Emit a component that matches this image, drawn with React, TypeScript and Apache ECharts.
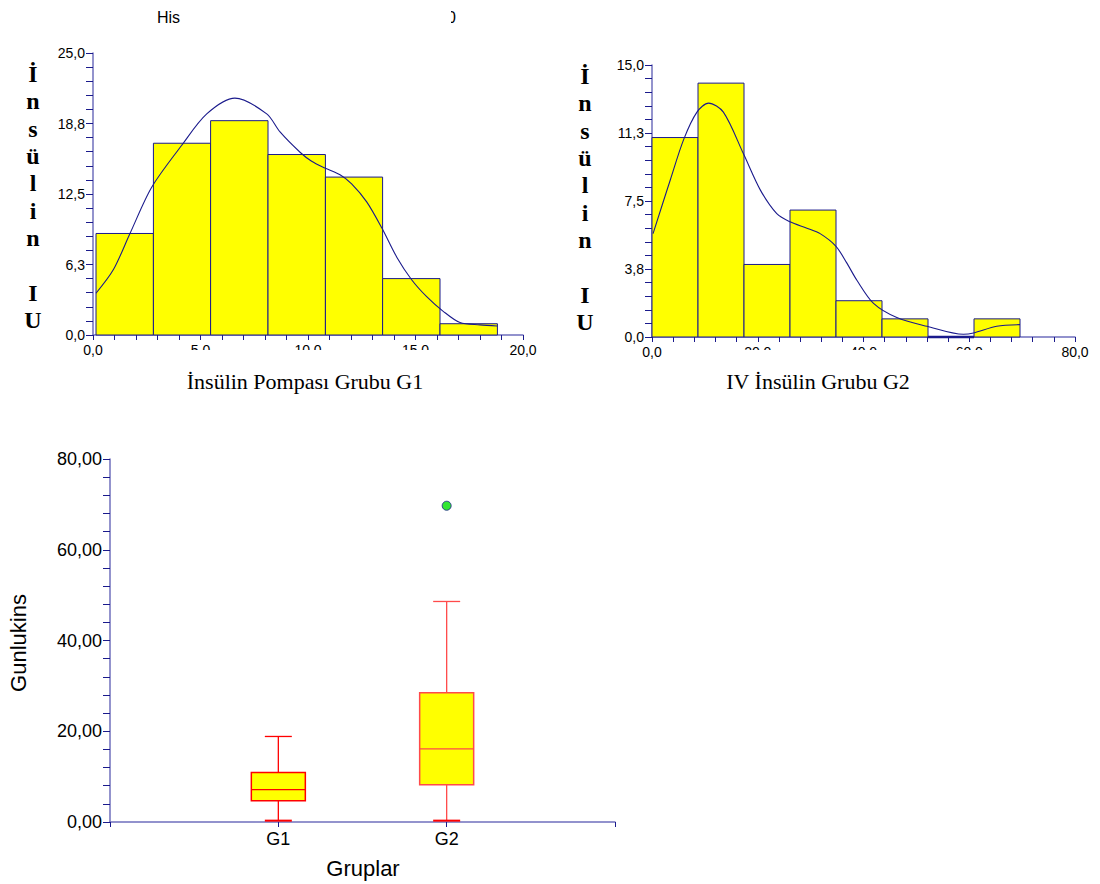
import React, { useEffect, useRef } from "react";
import * as echarts from "echarts";

// ---- Histogram G1 (İnsülin Pompası Grubu) ----
const g1Edges = [0.14, 2.81, 5.47, 8.14, 10.81, 13.47, 16.14, 18.81];
const g1Counts = [9, 17, 19, 16, 14, 5, 1];
const g1CurveX = [0.14, 0.95, 1.72, 2.73, 4.12, 5.29, 6.6, 8.08, 8.7, 9.63, 10.17, 10.79, 11.49, 12.03, 12.73, 13.43, 14.13, 14.82, 15.52, 16.29, 17.07, 18.0, 18.8];
const g1CurveY = [3.7, 5.8, 9.0, 13.1, 16.8, 19.6, 21.0, 19.6, 18.0, 16.2, 15.4, 14.8, 14.2, 13.4, 11.8, 9.5, 6.9, 4.9, 3.4, 2.1, 1.1, 0.9, 0.8];

// ---- Histogram G2 (IV İnsülin Grubu) ----
const g2Edges = [0, 8.7, 17.4, 26.1, 34.8, 43.5, 52.2, 60.9, 69.6];
const g2Counts = [11, 14, 4, 7, 2, 1, 0, 1];
const g2CurveX = [0.2, 3.5, 6.0, 8.5, 10.7, 13.5, 17.3, 20.5, 23.6, 26.1, 29.3, 31.8, 34.8, 36.8, 38.75, 41.9, 46.3, 52.0, 58.9, 60.8, 65.2, 69.6];
const g2CurveY = [5.7, 8.7, 10.9, 12.4, 12.9, 12.4, 10.1, 8.1, 6.8, 6.35, 6.0, 5.7, 5.0, 4.1, 3.13, 1.85, 1.07, 0.59, 0.15, 0.22, 0.59, 0.68];

// ---- Box plot (Gunlukins by Gruplar) ----
const groups = ["G1", "G2"];
const boxMin = [0.3, 0.3];
const boxQ1 = [4.7, 8.2];
const boxMedian = [7.15, 16.1];
const boxQ3 = [10.9, 28.5];
const boxMax = [18.85, 48.6];
const outlierGroup = ["G2"];
const outlierValue = [69.7];

// tick labels
const hist1XTicks = [0, 5, 10, 15, 20];
const hist1YTicks = [0, 6.25, 12.5, 18.75, 25];
const hist2XTicks = [0, 20, 40, 60, 80];
const hist2YTicks = [0, 3.75, 7.5, 11.25, 15];
const boxYTicks = [0, 20, 40, 60, 80];

const SANS = "Liberation Sans, Arial, sans-serif";
const SERIF = "Liberation Serif, Times New Roman, serif";
const AXIS_LINE = "#6f6fbd";
const TICK = "#1a1a8c";
const NAVY = "#1a1a8c";

const comma1 = (v: number) => v.toFixed(1).replace(".", ",");
const comma2 = (v: number) => v.toFixed(2).replace(".", ",");

function valueAxis(gridIndex: number, ticks: number[], minorSplit: number, fmt: (v: number) => string, fontSize: number, tickLen: number, extra: any = {}) {
  return {
    type: "value",
    gridIndex,
    min: ticks[0],
    max: ticks[ticks.length - 1],
    interval: ticks[1] - ticks[0],
    axisLine: { show: true, lineStyle: { color: AXIS_LINE, width: 1.5 } },
    axisTick: { show: true, length: tickLen, lineStyle: { color: TICK } },
    minorTick: { show: true, splitNumber: minorSplit, length: tickLen, lineStyle: { color: TICK } },
    splitLine: { show: false },
    axisLabel: { color: "#000", fontFamily: SANS, fontSize, formatter: fmt, margin: 8 },
    ...extra,
  };
}

function histSeries(xi: number, edges: number[], counts: number[]) {
  const data = counts.map((c, i) => [edges[i], edges[i + 1], c]);
  return {
    type: "custom",
    xAxisIndex: xi,
    yAxisIndex: xi,
    data,
    encode: { x: [0, 1], y: 2 },
    z: 2,
    renderItem: (params: any, api: any) => {
      const p0 = api.coord([api.value(0), api.value(2)]);
      const p1 = api.coord([api.value(1), 0]);
      return {
        type: "rect",
        shape: { x: p0[0], y: p0[1], width: p1[0] - p0[0], height: p1[1] - p0[1] },
        style: { fill: "#ffff00", stroke: NAVY, lineWidth: api.value(2) === 0 ? 2.5 : 1 },
      };
    },
  };
}

function curveSeries(xi: number, xs: number[], ys: number[]) {
  return {
    type: "line",
    xAxisIndex: xi,
    yAxisIndex: xi,
    data: xs.map((x, i) => [x, ys[i]]),
    smooth: 0.3,
    showSymbol: false,
    symbol: "none",
    lineStyle: { color: NAVY, width: 1.1 },
    z: 5,
  };
}

export default function App() {
  const ref = useRef<HTMLDivElement>(null);
  useEffect(() => {
    if (!ref.current) return;
    const chart = echarts.init(ref.current, null, { renderer: "svg" });
    const boxData = groups.map((g, i) => [i + 1, boxMin[i], boxQ1[i], boxMedian[i], boxQ3[i], boxMax[i]]);
    const boxStroke = ["#ff0000", "#ff4a4a"];
    const letters = "İ\nn\ns\nü\nl\ni\nn\n\nI\nU";
    const option: any = {
      animation: false,
      backgroundColor: "#fff",
      grid: [
        { left: 93, top: 53, width: 430, height: 282 },
        { left: 652, top: 65, width: 423, height: 272 },
        { left: 110, top: 459, width: 505, height: 363 },
      ],
      xAxis: [
        valueAxis(0, hist1XTicks, 5, comma1, 14, 5),
        valueAxis(1, hist2XTicks, 5, comma1, 14, 5),
        {
          type: "value",
          gridIndex: 2,
          min: 0,
          max: groups.length + 1,
          interval: 1,
          axisLine: { show: true, lineStyle: { color: AXIS_LINE, width: 1.5 } },
          axisTick: { show: true, length: 5, lineStyle: { color: TICK } },
          splitLine: { show: false },
          axisLabel: {
            color: "#000",
            fontFamily: SANS,
            fontSize: 18,
            margin: 8,
            formatter: (v: number) => groups[v - 1] || "",
          },
        },
      ],
      yAxis: [
        valueAxis(0, hist1YTicks, 5, comma1, 14, 7),
        valueAxis(1, hist2YTicks, 5, comma1, 14, 7),
        valueAxis(2, boxYTicks, 5, comma2, 18, 7),
      ],
      series: [
        histSeries(0, g1Edges, g1Counts),
        curveSeries(0, g1CurveX, g1CurveY),
        histSeries(1, g2Edges, g2Counts),
        curveSeries(1, g2CurveX, g2CurveY),
        {
          type: "custom",
          xAxisIndex: 2,
          yAxisIndex: 2,
          data: boxData,
          encode: { x: 0, y: [1, 2, 3, 4, 5] },
          renderItem: (params: any, api: any) => {
            const x = api.value(0);
            const pMin = api.coord([x, api.value(1)]);
            const pQ1 = api.coord([x, api.value(2)]);
            const pMed = api.coord([x, api.value(3)]);
            const pQ3 = api.coord([x, api.value(4)]);
            const pMax = api.coord([x, api.value(5)]);
            const cx = pMin[0];
            const hw = 27;
            const cap = 13.5;
            const stroke = boxStroke[params.dataIndex] || "#ff0000";
            const ls = { stroke, lineWidth: 1.3 };
            return {
              type: "group",
              children: [
                { type: "line", shape: { x1: cx, y1: pMax[1], x2: cx, y2: pQ3[1] }, style: ls },
                { type: "line", shape: { x1: cx, y1: pQ1[1], x2: cx, y2: pMin[1] }, style: ls },
                { type: "line", shape: { x1: cx - cap, y1: pMax[1], x2: cx + cap, y2: pMax[1] }, style: ls },
                { type: "line", shape: { x1: cx - cap, y1: pMin[1], x2: cx + cap, y2: pMin[1] }, style: { stroke: "#ff0000", lineWidth: 2 } },
                { type: "rect", shape: { x: cx - hw, y: pQ3[1], width: 2 * hw, height: pQ1[1] - pQ3[1] }, style: { fill: "#ffff00", stroke, lineWidth: 1.5 } },
                { type: "line", shape: { x1: cx - hw, y1: pMed[1], x2: cx + hw, y2: pMed[1] }, style: ls },
              ],
            };
          },
          z: 3,
        },
        {
          type: "scatter",
          xAxisIndex: 2,
          yAxisIndex: 2,
          data: outlierGroup.map((g, i) => [groups.indexOf(g) + 1, outlierValue[i]]),
          symbol: "circle",
          symbolSize: 9,
          itemStyle: { color: "#00e000", borderColor: NAVY, borderWidth: 1 },
          z: 4,
        },
      ],
      graphic: [
        { type: "text", x: 157, y: 17, z: 100, style: { text: "His", fontFamily: SANS, fontSize: 16, fill: "#000", verticalAlign: "middle" } },
        { type: "text", x: 447, y: 17, z: 100, style: { text: "0", fontFamily: SANS, fontSize: 16, fill: "#000", verticalAlign: "middle" } },
        { type: "rect", z: 101, shape: { x: 438, y: 4, width: 13, height: 26 }, style: { fill: "#fff" } },
        // hide lower half of middle x labels
        { type: "rect", z: 101, shape: { x: 107, y: 350, width: 400, height: 14 }, style: { fill: "#fff" } },
        { type: "rect", z: 101, shape: { x: 668, y: 350, width: 390, height: 14 }, style: { fill: "#fff" } },
        { type: "text", x: 33, y: 60, z: 100, style: { text: letters, fontFamily: SERIF, fontWeight: "bold", fontSize: 24, lineHeight: 27.4, fill: "#000", align: "center", verticalAlign: "top" } },
        { type: "text", x: 585, y: 62, z: 100, style: { text: letters, fontFamily: SERIF, fontWeight: "bold", fontSize: 24, lineHeight: 27.4, fill: "#000", align: "center", verticalAlign: "top" } },
        { type: "text", x: 305, y: 381, z: 100, style: { text: "İnsülin Pompası Grubu G1", fontFamily: SERIF, fontSize: 22, fill: "#000", align: "center", verticalAlign: "middle" } },
        { type: "text", x: 818, y: 381, z: 100, style: { text: "IV İnsülin Grubu G2", fontFamily: SERIF, fontSize: 22, fill: "#000", align: "center", verticalAlign: "middle" } },
        { type: "text", x: 18, y: 643, z: 100, rotation: Math.PI / 2, style: { text: "Gunlukins", fontFamily: SANS, fontSize: 22, fill: "#000", align: "center", verticalAlign: "middle" } },
        { type: "text", x: 363, y: 868, z: 100, style: { text: "Gruplar", fontFamily: SANS, fontSize: 22, fill: "#000", align: "center", verticalAlign: "middle" } },
      ],
    };
    chart.setOption(option);
    return () => chart.dispose();
  }, []);
  return <div ref={ref} style={{ position: "absolute", left: 0, top: 0, width: 1100, height: 884 }} />;
}
